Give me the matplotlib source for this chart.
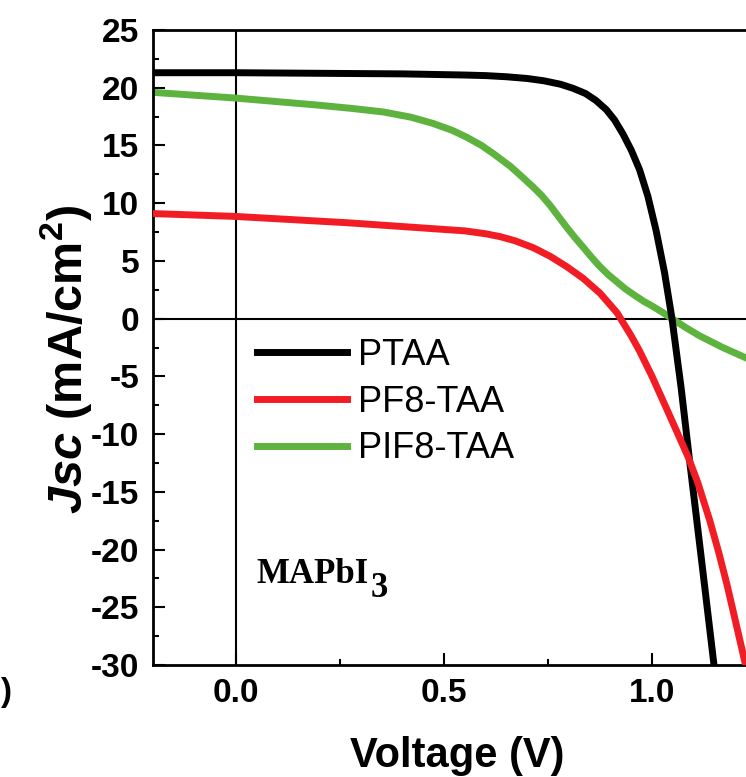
import matplotlib
matplotlib.use('Agg')
import matplotlib.pyplot as plt
from matplotlib.ticker import MultipleLocator

plt.rcParams['font.family'] = ['Liberation Sans', 'DejaVu Sans']
plt.rcParams['axes.unicode_minus'] = False
plt.rcParams['mathtext.fontset'] = 'custom'
plt.rcParams['mathtext.rm'] = 'Liberation Sans:bold'
plt.rcParams['mathtext.it'] = 'Liberation Sans:italic:bold'
plt.rcParams['mathtext.bf'] = 'Liberation Sans:bold'

# J-V curves
v_ptaa = [-0.2, 0.0, 0.2, 0.4, 0.55, 0.6, 0.65, 0.7, 0.74, 0.78, 0.81, 0.84, 0.865,
          0.89, 0.91, 0.93, 0.95, 0.97, 0.99, 1.01, 1.03, 1.048, 1.07, 1.09, 1.12,
          1.149, 1.16]
j_ptaa = [21.3, 21.3, 21.25, 21.2, 21.1, 21.05, 20.95, 20.8, 20.6, 20.3, 19.95, 19.5, 18.9,
          18.1, 17.2, 16.0, 14.6, 12.9, 10.6, 7.6, 4.0, 0.0, -6.0, -12.2, -21.2,
          -30.0, -33.0]

v_pf8 = [-0.2, 0.0, 0.27, 0.43, 0.55, 0.6, 0.635, 0.67, 0.714, 0.755, 0.795, 0.834,
         0.875, 0.916, 0.95, 0.97, 1.0, 1.04, 1.087, 1.11, 1.139, 1.16, 1.18, 1.2,
         1.216, 1.25]
j_pf8 = [9.1, 8.85, 8.3, 7.9, 7.6, 7.35, 7.1, 6.75, 6.15, 5.4, 4.5, 3.5,
         2.2, 0.5, -1.5, -2.8, -5.0, -8.2, -12.0, -14.2, -17.5, -20.2, -23.0, -26.1,
         -28.6, -34.0]

v_pif8 = [-0.2, 0.0, 0.195, 0.28, 0.354, 0.42, 0.474, 0.52, 0.555, 0.59, 0.618, 0.659,
          0.69, 0.714, 0.735, 0.755, 0.775, 0.795, 0.815, 0.834, 0.855, 0.875, 0.895,
          0.915, 0.935, 0.955, 0.98, 1.0, 1.025, 1.048, 1.08, 1.115, 1.17, 1.226, 1.25]
j_pif8 = [19.6, 19.1, 18.5, 18.2, 17.9, 17.45, 16.9, 16.3, 15.7, 15.0, 14.3, 13.2,
          12.2, 11.4, 10.65, 9.8, 8.85, 7.9, 7.0, 6.2, 5.3, 4.5, 3.8,
          3.2, 2.6, 2.1, 1.5, 1.1, 0.55, 0.0, -0.75, -1.5, -2.5, -3.4, -3.8]

labels = ['PTAA', 'PF8-TAA', 'PIF8-TAA']
colors = ['#000000', '#f21d24', '#5db33e']

fig = plt.figure(figsize=(7.46, 7.77), dpi=100)
ax = fig.add_axes([153/746, 112/777, 603/746, 635/777])

ax.axhline(0, color='black', lw=1.5, zorder=1)
ax.axvline(0, color='black', lw=1.5, zorder=1)

ax.plot(v_ptaa, j_ptaa, color=colors[0], lw=5, label=labels[0], zorder=3,
        solid_joinstyle='round')
ax.plot(v_pf8, j_pf8, color=colors[1], lw=5, label=labels[1], zorder=4,
        solid_joinstyle='round')
ax.plot(v_pif8, j_pif8, color=colors[2], lw=5, label=labels[2], zorder=2,
        solid_joinstyle='round')

ax.set_xlim(-0.2, 1.25)
ax.set_ylim(-30, 25)
ax.xaxis.set_major_locator(MultipleLocator(0.5))
ax.xaxis.set_minor_locator(MultipleLocator(0.25))
ax.yaxis.set_major_locator(MultipleLocator(5))
ax.yaxis.set_minor_locator(MultipleLocator(2.5))
ax.xaxis.set_major_formatter(plt.FormatStrFormatter('%.1f'))

ax.tick_params(which='both', direction='in', width=1.5, top=False, right=False,
               labelsize=24)
ax.tick_params(which='major', length=8.5)
ax.tick_params(which='minor', length=4.5)
ax.tick_params(axis='y', pad=10)
ax.tick_params(axis='x', pad=9)
for lab in ax.get_xticklabels() + ax.get_yticklabels():
    lab.set_fontweight('bold')
for side in ['left', 'bottom', 'top', 'right']:
    ax.spines[side].set_linewidth(2)

fig.text(457/746, 10/777, 'Voltage (V)', ha='center', va='baseline',
         fontsize=30, fontweight='bold')
fig.text(82/746, 1 - 359/777, r'$\mathit{Jsc}$ (mA/cm$^2$)', rotation=90,
         rotation_mode='anchor', ha='center', va='baseline',
         fontsize=35, fontweight='bold')

ax.legend(loc='center left', bbox_to_anchor=(0.172, 0.414), frameon=False,
          fontsize=26, handlelength=2.5, handletextpad=0.3, labelspacing=0.32,
          borderpad=0, borderaxespad=0)

t = ax.text(0.172, 0.129, 'MAPbI', transform=ax.transAxes, fontsize=25,
            fontweight='bold', family='Liberation Serif', va='baseline')
ax.annotate('3', xy=(1, 0), xycoords=t, xytext=(1, -10), textcoords='offset points',
            fontsize=25, fontweight='bold', family='Liberation Serif', va='bottom')

fig.text(0.0, 1 - 692/777, ')', ha='left', va='center', fontsize=24, fontweight='bold')

fig.savefig('out.png', dpi=100)
